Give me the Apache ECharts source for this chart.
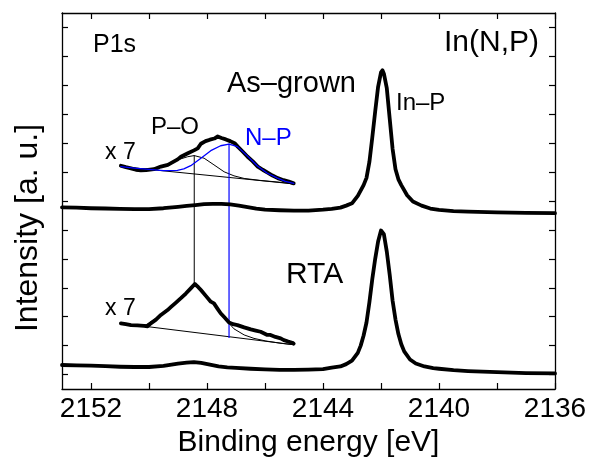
<!DOCTYPE html>
<html>
<head>
<meta charset="utf-8">
<script src="https://cdn.jsdelivr.net/npm/echarts@6/dist/echarts.min.js"></script>
<style>
html,body{margin:0;padding:0;background:#fff;}
#chart{width:591px;height:464px;}
</style>
</head>
<body>
<div id="chart"></div>
<script>
// ---------- data (binding energy [eV], intensity [a. u.]) ----------
const xTickValues = [2136, 2138, 2140, 2142, 2144, 2146, 2148, 2150, 2152];
const xTickLabels = [2136, 2140, 2144, 2148, 2152];
const yTickValues = [0, 1, 2, 3, 4, 5, 6, 7, 8, 9, 10, 11, 12];

const asGrown = [
  [2153.0,5.78],[2152.5,5.77],[2152.0,5.75],[2151.5,5.74],[2151.0,5.73],[2150.5,5.72],
  [2150.0,5.72],[2149.5,5.75],[2149.0,5.80],[2148.7,5.83],[2148.4,5.86],[2148.1,5.89],
  [2147.8,5.90],[2147.5,5.90],[2147.2,5.88],[2146.9,5.84],[2146.6,5.79],[2146.3,5.74],
  [2146.0,5.70],[2145.5,5.68],[2145.0,5.67],[2144.5,5.67],[2144.0,5.70],[2143.7,5.73],
  [2143.4,5.77],[2143.2,5.84],[2143.0,5.92],[2142.8,6.18],[2142.6,6.55],[2142.5,6.80],
  [2142.4,7.35],[2142.3,8.20],[2142.2,9.10],[2142.1,9.95],[2142.0,10.45],[2141.95,10.52],
  [2141.9,10.40],[2141.8,9.90],[2141.7,8.85],[2141.6,7.80],[2141.5,7.10],[2141.4,6.75],
  [2141.3,6.55],[2141.1,6.20],[2140.9,5.98],[2140.6,5.84],[2140.3,5.74],[2140.0,5.69],
  [2139.5,5.65],[2139.0,5.63],[2138.0,5.61],[2137.0,5.59],[2136.0,5.58]
];

const rta = [
  [2153.0,0.33],[2152.5,0.32],[2152.0,0.31],[2151.5,0.29],[2151.0,0.27],[2150.5,0.26],
  [2150.0,0.26],[2149.5,0.30],[2149.0,0.38],[2148.7,0.41],[2148.45,0.43],[2148.2,0.40],
  [2147.9,0.34],[2147.6,0.28],[2147.3,0.25],[2147.0,0.23],[2146.5,0.20],[2146.0,0.18],
  [2145.5,0.16],[2145.0,0.16],[2144.5,0.17],[2144.0,0.19],[2143.7,0.24],[2143.4,0.28],
  [2143.2,0.36],[2143.0,0.48],[2142.8,0.75],[2142.7,1.00],[2142.6,1.35],[2142.5,1.80],
  [2142.4,2.50],[2142.3,3.30],[2142.2,4.00],[2142.1,4.60],[2142.0,4.98],[2141.95,5.00],
  [2141.9,4.85],[2141.8,4.25],[2141.7,3.45],[2141.6,2.55],[2141.5,1.90],[2141.4,1.40],
  [2141.3,1.05],[2141.2,0.80],[2141.0,0.52],[2140.8,0.38],[2140.5,0.28],[2140.2,0.22],
  [2140.0,0.20],[2139.5,0.15],[2139.0,0.12],[2138.0,0.08],[2137.0,0.05],[2136.0,0.04]
];

// x7 magnified P1s region, as-grown
const asGrownX7 = [
  [2150.97,7.22],[2150.80,7.17],[2150.62,7.13],[2150.45,7.08],[2150.28,7.06],[2150.10,7.07],
  [2149.83,7.10],[2149.59,7.19],[2149.35,7.25],[2149.15,7.36],[2149.01,7.44],[2148.90,7.53],
  [2148.66,7.65],[2148.45,7.75],[2148.32,7.82],[2148.21,7.98],[2148.05,8.07],[2147.90,8.12],
  [2147.75,8.16],[2147.63,8.23],[2147.50,8.18],[2147.35,8.13],[2147.20,8.07],[2147.05,8.00],
  [2146.94,7.88],[2146.78,7.72],[2146.60,7.53],[2146.43,7.38],[2146.25,7.19],[2146.08,7.08],
  [2145.91,6.98],[2145.74,6.88],[2145.56,6.79],[2145.36,6.72],[2145.18,6.67],[2145.01,6.61]
];
const asGrownBg = [[2150.97,7.19],[2145.01,6.59]];
const asGrownPO = [
  [2150.97,7.19],[2150.50,7.14],[2150.17,7.11],[2149.85,7.12],[2149.59,7.19],[2149.30,7.30],
  [2149.02,7.42],[2148.67,7.53],[2148.44,7.57],[2148.10,7.48],[2147.76,7.25],[2147.41,7.01],
  [2147.07,6.87],[2146.72,6.78],[2146.15,6.71],[2145.50,6.65],[2145.01,6.59]
];
const asGrownNP = [
  [2150.97,7.19],[2150.50,7.14],[2150.00,7.09],[2149.50,7.05],[2149.02,7.06],[2148.80,7.11],
  [2148.56,7.22],[2148.21,7.48],[2147.87,7.74],[2147.53,7.91],[2147.24,7.97],[2146.95,7.88],
  [2146.61,7.56],[2146.26,7.21],[2145.92,6.96],[2145.57,6.79],[2145.30,6.68],[2145.01,6.61]
];

// x7 magnified P1s region, RTA
const rtaX7 = [
  [2150.97,1.77],[2150.80,1.74],[2150.62,1.71],[2150.40,1.70],[2150.17,1.68],[2150.05,1.67],
  [2149.94,1.77],[2149.76,1.90],[2149.59,2.06],[2149.36,2.23],[2149.25,2.33],[2149.08,2.48],
  [2148.90,2.64],[2148.73,2.80],[2148.56,2.98],[2148.42,3.13],[2148.30,3.02],[2148.21,2.92],
  [2148.04,2.72],[2147.87,2.52],[2147.76,2.46],[2147.64,2.28],[2147.53,2.12],[2147.40,1.98],
  [2147.24,1.80],[2147.10,1.74],[2146.95,1.71],[2146.72,1.63],[2146.49,1.56],[2146.32,1.52],
  [2146.15,1.48],[2145.92,1.37],[2145.81,1.37],[2145.64,1.30],[2145.46,1.25],[2145.35,1.19],
  [2145.20,1.14],[2145.06,1.10],[2145.01,1.07]
];
const rtaBg = [[2150.97,1.77],[2145.01,1.03]];
const rtaPO = [
  [2150.97,1.77],[2150.17,1.68],[2149.59,2.04],[2148.90,2.62],[2148.42,3.13],[2148.21,2.92],
  [2147.76,2.46],[2147.41,1.96],[2147.07,1.58],[2146.72,1.37],[2146.38,1.25],[2145.97,1.16],
  [2145.45,1.08],[2145.01,1.03]
];

// peak position markers
const poMarker = [[2148.44,7.57],[2148.44,3.13]];
const npMarker = [[2147.24,7.97],[2147.24,1.28]];

// ---------- chart ----------
const FONT = 'Liberation Sans, Arial, Helvetica, sans-serif';
const BLUE = '#0000ff';
const chart = echarts.init(document.getElementById('chart'), null, {renderer: 'canvas'});

function line(name, data, color, width, z) {
  return {
    name: name, type: 'line', data: data, xAxisIndex: 0, yAxisIndex: 0,
    symbol: 'none', smooth: false, silent: true, z: z,
    lineStyle: {color: color, width: width, join: 'round', cap: 'round'}
  };
}

const axisLineStyle = {show: true, onZero: false, lineStyle: {color: '#000', width: 1.3}};
const xBase = {
  type: 'value', min: 2136, max: 2153, interval: 2, inverse: true,
  splitLine: {show: false},
  axisLine: axisLineStyle
};
const yBase = {
  type: 'value', min: -0.5, max: 12.5,
  splitLine: {show: false},
  axisLine: axisLineStyle,
  axisLabel: {show: false},
  axisTick: {show: true, inside: true, length: 6, customValues: yTickValues, lineStyle: {color: '#000', width: 1.2}}
};

chart.setOption({
  animation: false,
  backgroundColor: '#fff',
  grid: {left: 62, right: 36, top: 13, bottom: 75, containLabel: false},
  xAxis: [
    Object.assign({}, xBase, {
      position: 'bottom',
      name: 'Binding energy [eV]',
      nameLocation: 'middle',
      nameGap: 38,
      nameTextStyle: {fontFamily: FONT, fontSize: 30, color: '#000', lineHeight: 30},
      axisTick: {show: true, inside: true, length: 6, customValues: xTickValues, lineStyle: {color: '#000', width: 1.2}},
      axisLabel: {show: true, customValues: xTickLabels, margin: 6, fontFamily: FONT, fontSize: 28, color: '#000', lineHeight: 28,
        formatter: function (v) { return String(v); }}
    }),
    Object.assign({}, xBase, {
      position: 'top',
      axisTick: {show: true, inside: true, length: 6, customValues: xTickValues, lineStyle: {color: '#000', width: 1.2}},
      axisLabel: {show: false}
    })
  ],
  yAxis: [
    Object.assign({}, yBase, {position: 'left'}),
    Object.assign({}, yBase, {position: 'right'})
  ],
  series: [
    line('As-grown background', asGrownBg, '#000', 1, 2),
    line('As-grown P–O', asGrownPO, '#000', 1, 2),
    line('RTA background', rtaBg, '#000', 1, 2),
    line('RTA P–O', rtaPO, '#000', 1, 2),
    line('P–O marker', poMarker, '#000', 1, 2),
    line('N–P marker', npMarker, BLUE, 1.2, 2),
    line('As-grown', asGrown, '#000', 3.8, 3),
    line('RTA', rta, '#000', 3.8, 3),
    line('As-grown x7', asGrownX7, '#000', 3.8, 3),
    line('RTA x7', rtaX7, '#000', 3.8, 3),
    line('As-grown N–P', asGrownNP, BLUE, 1.3, 4)
  ],
  graphic: [
    {type: 'text', x: 28, y: 228, rotation: Math.PI / 2,
      style: {text: 'Intensity [a. u.]', fontFamily: FONT, fontSize: 32, fill: '#000', align: 'center', verticalAlign: 'middle'}},
    {type: 'text', x: 93, y: 45, style: {text: 'P1s', fontFamily: FONT, fontSize: 25, fill: '#000', align: 'left', verticalAlign: 'middle'}},
    {type: 'text', x: 539, y: 43, style: {text: 'In(N,P)', fontFamily: FONT, fontSize: 30, fill: '#000', align: 'right', verticalAlign: 'middle'}},
    {type: 'text', x: 227, y: 84, style: {text: 'As–grown', fontFamily: FONT, fontSize: 29, fill: '#000', align: 'left', verticalAlign: 'middle'}},
    {type: 'text', x: 396, y: 103.5, style: {text: 'In–P', fontFamily: FONT, fontSize: 24, fill: '#000', align: 'left', verticalAlign: 'middle'}},
    {type: 'text', x: 151, y: 127, style: {text: 'P–O', fontFamily: FONT, fontSize: 24, fill: '#000', align: 'left', verticalAlign: 'middle'}},
    {type: 'text', x: 245, y: 138.5, style: {text: 'N–P', fontFamily: FONT, fontSize: 24, fill: BLUE, align: 'left', verticalAlign: 'middle'}},
    {type: 'text', x: 105, y: 153, style: {text: 'x 7', fontFamily: FONT, fontSize: 23, fill: '#000', align: 'left', verticalAlign: 'middle'}},
    {type: 'text', x: 105, y: 309, style: {text: 'x 7', fontFamily: FONT, fontSize: 23, fill: '#000', align: 'left', verticalAlign: 'middle'}},
    {type: 'text', x: 286, y: 274.5, style: {text: 'RTA', fontFamily: FONT, fontSize: 30, fill: '#000', align: 'left', verticalAlign: 'middle'}}
  ]
});
</script>
</body>
</html>
